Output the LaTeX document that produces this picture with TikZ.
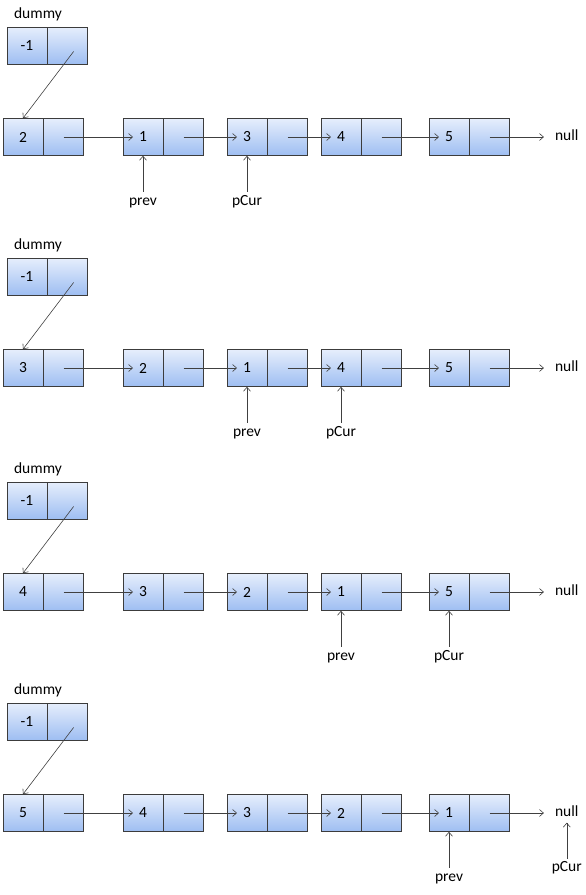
\documentclass[tikz,border=0pt]{standalone}
\usepackage{fontspec}
\setmainfont{Carlito}
\usepackage{xcolor}
\usepackage{tikz}
\usetikzlibrary{arrows.meta,positioning}
\definecolor{celltop}{RGB}{230,238,252}
\definecolor{cellbot}{RGB}{158,190,242}
\definecolor{edge}{RGB}{60,60,60}
\tikzset{
  cell/.style   ={draw=edge, line width=0.6pt, top color=celltop, bottom color=cellbot,
                  minimum width=40pt, minimum height=37pt, inner sep=0pt, font=\fontsize{15.5}{18}\selectfont},
  txt/.style    ={font=\fontsize{15.5}{18}\selectfont, text height=10pt, text depth=3pt, inner sep=3pt},
  link/.style   ={-{Straight Barb[length=4pt,width=7pt]}, line width=0.6pt, draw=black!75},
  nextptr/.style={link, shorten >=10pt}
}
\newcommand{\listnode}[3]{% name, position, value
  \node[cell] (#1v) at #2 {#3};
  \node[cell, right=0pt of #1v] (#1n) {};}

\begin{document}
\begin{tikzpicture}[x=1pt, y=-1pt]
  \useasboundingbox (0,0) rectangle (586,895);
  % step 1
  \node[txt] (adummy) at (38,15) {dummy};
  \listnode{a0}{(27,45.5)}{-1}
  \listnode{a1}{(23,137)}{2}
  \listnode{a2}{(143,137)}{1}
  \listnode{a3}{(247,137)}{3}
  \listnode{a4}{(341,137)}{4}
  \listnode{a5}{(449,137)}{5}
  \node[txt, right=42pt of a5n] (anull) {null};
  \node[txt, below=36pt of a2v] (aprev) {prev};
  \node[txt, below=36pt of a3v] (apcur) {pCur};
  \draw[link] ([xshift=6pt,yshift=-6pt]a0n.center) -- (a1v.north);
  \draw[nextptr] (a1n.center) -- (a2v.center);
  \draw[nextptr] (a2n.center) -- (a3v.center);
  \draw[nextptr] (a3n.center) -- (a4v.center);
  \draw[nextptr] (a4n.center) -- (a5v.center);
  \draw[link, shorten >=8pt] (a5n.center) -- (anull);
  \draw[link] (aprev) -- (a2v);
  \draw[link] (apcur) -- (a3v);
  % step 2
  \node[txt] (bdummy) at (38,246) {dummy};
  \listnode{b0}{(27,276.5)}{-1}
  \listnode{b1}{(23,368)}{3}
  \listnode{b2}{(143,368)}{2}
  \listnode{b3}{(247,368)}{1}
  \listnode{b4}{(341,368)}{4}
  \listnode{b5}{(449,368)}{5}
  \node[txt, right=42pt of b5n] (bnull) {null};
  \node[txt, below=36pt of b3v] (bprev) {prev};
  \node[txt, below=36pt of b4v] (bpcur) {pCur};
  \draw[link] ([xshift=6pt,yshift=-6pt]b0n.center) -- (b1v.north);
  \draw[nextptr] (b1n.center) -- (b2v.center);
  \draw[nextptr] (b2n.center) -- (b3v.center);
  \draw[nextptr] (b3n.center) -- (b4v.center);
  \draw[nextptr] (b4n.center) -- (b5v.center);
  \draw[link, shorten >=8pt] (b5n.center) -- (bnull);
  \draw[link] (bprev) -- (b3v);
  \draw[link] (bpcur) -- (b4v);
  % step 3
  \node[txt] (cdummy) at (38,470) {dummy};
  \listnode{c0}{(27,500.5)}{-1}
  \listnode{c1}{(23,592)}{4}
  \listnode{c2}{(143,592)}{3}
  \listnode{c3}{(247,592)}{2}
  \listnode{c4}{(341,592)}{1}
  \listnode{c5}{(449,592)}{5}
  \node[txt, right=42pt of c5n] (cnull) {null};
  \node[txt, below=36pt of c4v] (cprev) {prev};
  \node[txt, below=36pt of c5v] (cpcur) {pCur};
  \draw[link] ([xshift=6pt,yshift=-6pt]c0n.center) -- (c1v.north);
  \draw[nextptr] (c1n.center) -- (c2v.center);
  \draw[nextptr] (c2n.center) -- (c3v.center);
  \draw[nextptr] (c3n.center) -- (c4v.center);
  \draw[nextptr] (c4n.center) -- (c5v.center);
  \draw[link, shorten >=8pt] (c5n.center) -- (cnull);
  \draw[link] (cprev) -- (c4v);
  \draw[link] (cpcur) -- (c5v);
  % step 4
  \node[txt] (ddummy) at (38,691) {dummy};
  \listnode{d0}{(27,721.5)}{-1}
  \listnode{d1}{(23,813)}{5}
  \listnode{d2}{(143,813)}{4}
  \listnode{d3}{(247,813)}{3}
  \listnode{d4}{(341,813)}{2}
  \listnode{d5}{(449,813)}{1}
  \node[txt, right=42pt of d5n] (dnull) {null};
  \node[txt, below=36pt of d5v] (dprev) {prev};
  \node[txt, below=36pt of dnull] (dpcur) {pCur};
  \draw[link] ([xshift=6pt,yshift=-6pt]d0n.center) -- (d1v.north);
  \draw[nextptr] (d1n.center) -- (d2v.center);
  \draw[nextptr] (d2n.center) -- (d3v.center);
  \draw[nextptr] (d3n.center) -- (d4v.center);
  \draw[nextptr] (d4n.center) -- (d5v.center);
  \draw[link, shorten >=8pt] (d5n.center) -- (dnull);
  \draw[link] (dprev) -- (d5v);
  \draw[link] (dpcur) -- (dnull);
\end{tikzpicture}
\end{document}
